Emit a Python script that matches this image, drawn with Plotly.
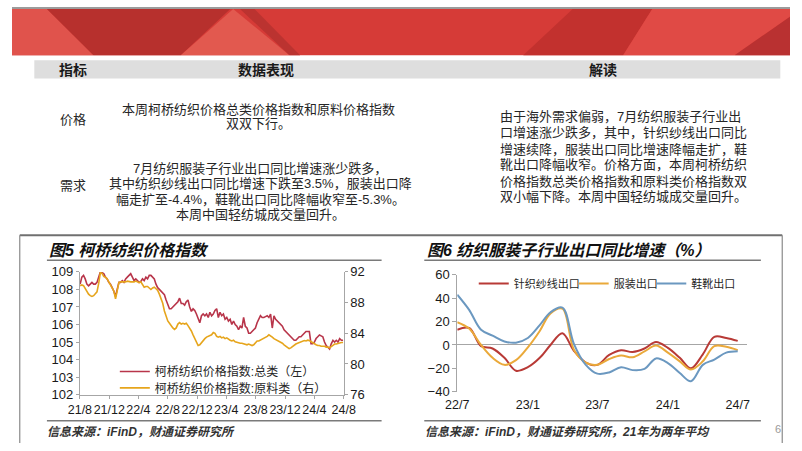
import plotly.graph_objects as go
import pandas as pd

W, H = 802, 451
def px(x): return x / W
def py(y): return 1 - y / H

CJK = "Noto Sans CJK SC"
MIX = "Liberation Sans, Noto Sans CJK SC"
LAT = "Liberation Sans, Arial"

# ---------------- Chart 5 data (weekly) ----------------
price_dates = pd.date_range('2021-08-02', periods=157, freq='7D')
price_total = [
    108.3,108.7,108.8,108.6,108.3,108.2,108.3,108.4,108.3,108.3,
    108.4,108.7,109.0,108.95,108.9,108.7,108.6,108.4,108.3,108.1,
    107.9,107.6,108.0,108.4,108.4,108.5,108.4,108.6,108.7,108.8,
    108.9,108.7,108.5,108.6,108.5,108.4,108.45,108.6,108.5,108.7,
    108.6,108.8,108.8,108.7,108.6,108.3,108.1,108.0,107.9,107.8,
    107.7,107.4,107.1,106.9,106.9,107.0,107.1,107.2,107.3,107.5,
    107.2,107.2,107.1,107.3,107.4,107.0,106.75,106.9,106.8,106.6,
    106.3,106.1,106.5,106.6,106.5,106.6,106.4,106.7,106.5,106.6,
    106.8,106.9,106.4,106.7,106.5,106.6,106.3,106.4,106.2,106.3,
    106.0,106.2,106.0,105.9,105.7,105.9,105.8,106.4,105.9,105.8,
    105.5,105.5,105.6,105.7,105.8,106.1,106.3,106.5,106.4,106.4,
    106.45,106.5,106.4,106.6,105.8,106.5,106.3,106.2,106.1,106.0,
    105.9,105.7,105.6,105.5,105.4,105.3,105.2,105.1,105.1,105.2,
    105.3,105.3,105.4,105.5,105.6,105.6,105.6,104.9,104.9,105.0,
    105.2,105.3,105.4,105.35,105.3,105.0,104.8,104.7,104.6,104.9,
    105.1,105.0,105.1,105.0,105.2,105.1,105.1]
price_raw = [
    90.2,90.3,90.2,89.8,89.4,89.1,88.9,88.8,88.9,89.1,
    89.4,90.5,91.9,91.8,91.4,91.3,91.1,90.7,90.3,89.9,
    89.5,88.5,89.6,90.6,90.7,90.7,90.7,90.7,90.8,90.7,
    90.7,90.7,90.7,90.8,90.7,90.6,90.7,90.3,90.0,90.1,
    90.1,89.9,89.7,89.9,90.0,89.8,89.6,89.1,88.6,87.9,
    86.9,86.1,85.6,85.3,84.9,84.7,84.5,84.7,85.2,85.4,
    85.2,85.3,85.2,85.3,85.0,84.7,84.3,83.8,83.3,82.8,
    82.4,82.5,82.8,83.0,83.3,83.5,83.6,83.7,83.8,84.1,
    84.0,83.6,83.5,83.6,83.4,83.5,83.3,83.4,83.2,83.1,
    83.0,83.1,82.9,82.8,82.8,82.7,82.7,82.6,82.6,82.5,
    82.6,82.5,82.4,82.5,82.8,83.0,83.0,83.1,83.2,83.3,
    83.4,83.6,83.8,83.7,83.5,83.3,83.2,83.1,83.0,82.9,
    82.7,82.5,82.3,82.1,82.0,82.1,82.3,82.4,82.6,82.7,
    82.8,82.9,83.0,83.05,83.0,83.1,83.05,82.9,82.7,82.6,
    82.5,82.4,82.4,82.3,82.3,82.3,82.2,82.2,82.1,82.3,
    82.5,82.6,82.6,82.7,82.8,82.8,82.8]
price_tick_dates = ['2021-08-01','2021-12-01','2022-04-01','2022-08-01','2022-12-01',
                    '2023-04-01','2023-08-01','2023-12-01','2024-04-01','2024-08-01']
price_tick_text = ['21/8','21/12','22/4','22/8','22/12','23/4','23/8','23/12','24/4','24/8']
name_total = '柯桥纺织价格指数:总类（左）'
name_raw = '柯桥纺织价格指数:原料类（右）'

# ---------------- Chart 6 data (monthly) ----------------
exp_months = pd.date_range('2022-07-01', periods=25, freq='MS')
exp_knit = [13, 14.5, -1, -3, -11, -22, -19, -11, 0, 10, -5, -15, -17,
            -8.5, -4.5, -6, -3, 2.5, -2.5, -11, -20, -8, 7, 6, 3.5]
exp_apparel = [19.5, 14, 0, -11, -17, -13, -2, 12, 27, 31, -4, -15, -17,
               -12, -9, -10.5, -5.5, -0.5, -6.5, -14, -21, -14, -1, -1.5, -4.4]
exp_shoes = [43, 30, 13, 8, 3, 2, 6, 17, 28, 32, 1, -17, -24.5,
             -23.5, -19, -21.5, -20.5, -11.5, -15.5, -24, -31, -17, -12.5, -6.5, -5.3]
exp_tick_dates = ['2022-07-01','2023-01-01','2023-07-01','2024-01-01','2024-07-01']
exp_tick_text = ['22/7','23/1','23/7','24/1','24/7']
exp_names = ['针织纱线出口', '服装出口', '鞋靴出口']

# ---------------- table text ----------------
table_headers = ['指标', '数据表现', '解读']
row_labels = ['价格', '需求']
price_lines = ['本周柯桥纺织价格总类价格指数和原料价格指数', '双双下行。']
demand_lines = ['7月纺织服装子行业出口同比增速涨少跌多，',
                '其中纺织纱线出口同比增速下跌至3.5%，服装出口降',
                '幅走扩至-4.4%，鞋靴出口同比降幅收窄至-5.3%。',
                '本周中国轻纺城成交量回升。']
reading_lines = ['由于海外需求偏弱，7月纺织服装子行业出',
                 '口增速涨少跌多，其中，针织纱线出口同比',
                 '增速续降，服装出口同比增速降幅走扩，鞋',
                 '靴出口降幅收窄。价格方面，本周柯桥纺织',
                 '价格指数总类价格指数和原料类价格指数双',
                 '双小幅下降。本周中国轻纺城成交量回升。']

C_RED5 = '#b8354a'
C_YEL5 = '#e6a51c'
C_RED6 = '#b83a36'
C_YEL6 = '#eaa93a'
C_BLU6 = '#6b98c0'
AX = '#a6a6a6'

fig = go.Figure()
fig.add_trace(go.Scatter(x=price_dates, y=price_total, name=name_total, mode='lines',
                         line=dict(color=C_RED5, width=1.6), xaxis='x', yaxis='y', legend='legend'))
fig.add_trace(go.Scatter(x=price_dates, y=price_raw, name=name_raw, mode='lines',
                         line=dict(color=C_YEL5, width=1.6), xaxis='x', yaxis='y2', legend='legend2'))
for nm, vals, col, lg in zip(exp_names, [exp_knit, exp_apparel, exp_shoes],
                             [C_RED6, C_YEL6, C_BLU6], ['legend3', 'legend4', 'legend5']):
    fig.add_trace(go.Scatter(x=exp_months, y=vals, name=nm, mode='lines',
                             line=dict(color=col, width=2, shape='spline', smoothing=1.0),
                             xaxis='x2', yaxis='y3', legend=lg))

tickfont = dict(family=LAT, size=13, color='#1a1a1a')
xtickfont = dict(family=LAT, size=12.5, color='#1a1a1a')
def leg(x_box, y_center, size):
    return dict(x=px(x_box), y=py(y_center - 11), xanchor='left', yanchor='top',
                bgcolor='rgba(0,0,0,0)', borderwidth=0,
                font=dict(family=MIX, size=size, color='#262626'))
fig.update_layout(
    width=W, height=H, margin=dict(l=0, r=0, t=0, b=0),
    paper_bgcolor='white', plot_bgcolor='rgba(0,0,0,0)',
    xaxis=dict(domain=[px(70), px(342)], type='date', range=['2021-08-01', '2024-08-01'],
               tickvals=price_tick_dates, ticktext=price_tick_text, tickfont=xtickfont, tickangle=0,
               showline=True, linecolor=AX, linewidth=1, ticks='outside', ticklen=3, tickcolor=AX,
               showgrid=False, anchor='y', fixedrange=True),
    yaxis=dict(domain=[py(401), py(274)], range=[102, 109], dtick=1, tickfont=tickfont,
               showline=True, linecolor=AX, ticks='outside', ticklen=3, tickcolor=AX,
               showgrid=False, zeroline=False, anchor='x'),
    yaxis2=dict(domain=[py(401), py(274)], range=[76, 92], dtick=4, tickfont=tickfont,
                overlaying='y', side='right', anchor='x',
                showline=True, linecolor=AX, ticks='outside', ticklen=3, tickcolor=AX,
                showgrid=False, zeroline=False),
    xaxis2=dict(domain=[px(459), px(758)], type='date', range=['2022-07-01', '2024-07-26'],
                tickvals=exp_tick_dates, ticktext=exp_tick_text, tickfont=xtickfont, tickangle=0,
                ticklabelstandoff=4,
                showline=False, ticks='', showgrid=False, anchor='y3'),
    yaxis3=dict(domain=[py(398), py(277)], range=[-40, 60], dtick=20, tickfont=tickfont,
                showline=True, linecolor=AX, ticks='outside', ticklen=4, tickcolor=AX,
                showgrid=False, zeroline=True, zerolinecolor=AX, zerolinewidth=1, anchor='x2'),
    legend=leg(106, 373, 12),
    legend2=leg(106, 390, 12),
    legend3=leg(476, 282, 11),
    legend4=leg(579, 282, 11),
    legend5=leg(659, 282, 11),
    showlegend=True,
)

shapes = []
def poly(pts, color):
    d = 'M ' + ' L '.join(f'{px(x):.5f},{py(y):.5f}' for x, y in pts) + ' Z'
    shapes.append(dict(type='path', path=d, xref='paper', yref='paper',
                       fillcolor=color, line=dict(width=0), layer='below'))
def hline(x0, x1, y, color, w):
    shapes.append(dict(type='line', xref='paper', yref='paper', x0=px(x0), x1=px(x1),
                       y0=py(y), y1=py(y), line=dict(color=color, width=w)))
def vline(x, y0, y1, color, w):
    shapes.append(dict(type='line', xref='paper', yref='paper', x0=px(x), x1=px(x),
                       y0=py(y0), y1=py(y1), line=dict(color=color, width=w)))

# banner
poly([(0, 0), (802, 0), (802, 50), (0, 50)], '#d63b37')
poly([(0, 2), (36, 2), (84, 50), (0, 50)], '#e0534c')
poly([(36, 2), (225, 2), (174, 50), (84, 50)], '#b7302d')
poly([(174, 50), (228, 2), (286, 50)], '#e2594f')
poly([(235, 2), (250, 2), (297, 50), (286, 50)], '#bb3330')
poly([(578, 2), (660, 2), (630, 50), (527, 50)], '#c2312e')
poly([(660, 2), (802, 2), (802, 10), (745, 50), (630, 50)], '#e04a45')
poly([(745, 50), (802, 10), (802, 50)], '#b93131')
poly([(0, 0), (802, 0), (802, 2), (0, 2)], '#9b9b9b')
# table header
poly([(23, 55), (792, 55), (792, 74), (23, 74)], '#dedede')
# frame and rules
hline(8, 794, 236, '#707070', 2)
vline(8, 236, 451, '#8a8a8a', 1.2)
vline(794, 236, 451, '#8a8a8a', 1.2)
hline(36, 381, 262, '#7a7a7a', 1.5)
hline(425, 772, 262, '#7a7a7a', 1.5)
hline(36, 381, 428, '#7a7a7a', 1.5)
hline(425, 772, 428, '#7a7a7a', 1.5)
fig.update_layout(shapes=shapes)

anns = []
def text(s, x, y, size, xanchor='center', bold=False, italic=False, color='#262626'):
    if bold:
        s = '<b>' + s + '</b>'
    if italic:
        s = '<i>' + s + '</i>'
    anns.append(dict(text=s, x=px(x), y=py(y), xref='paper', yref='paper', showarrow=False,
                     xanchor=xanchor, yanchor='middle', borderpad=0,
                     font=dict(family=MIX, size=size, color=color)))

for s, x in zip(table_headers, [63, 262, 609]):
    text(s, x, 65, 14, bold=True, color='#1a1a1a')
text(row_labels[0], 63, 116, 13)
text(row_labels[1], 63, 185, 13)
for s, y in zip(price_lines, [106, 121]):
    text(s, 254, y, 13)
for s, y in zip(demand_lines, [167, 183, 199, 215]):
    text(s, 256, y, 13)
for s, y in zip(reading_lines, [113, 130, 147, 163, 180, 196]):
    text(s, 502, y, 13, xanchor='left')
text('图5 柯桥纺织价格指数', 37, 252, 16, xanchor='left', bold=True, italic=True, color='#111111')
text('图6 纺织服装子行业出口同比增速（%）', 427, 252, 16, xanchor='left', bold=True, italic=True, color='#111111')
text('信息来源：iFinD，财通证券研究所', 35, 440, 12, xanchor='left', bold=True, italic=True, color='#333333')
text('信息来源：iFinD，财通证券研究所，21年为两年平均', 425, 440, 12, xanchor='left', bold=True, italic=True, color='#333333')
text('6', 790, 437, 11, color='#9a9a9a')
fig.update_layout(annotations=anns)

fig.write_html('out.html')
